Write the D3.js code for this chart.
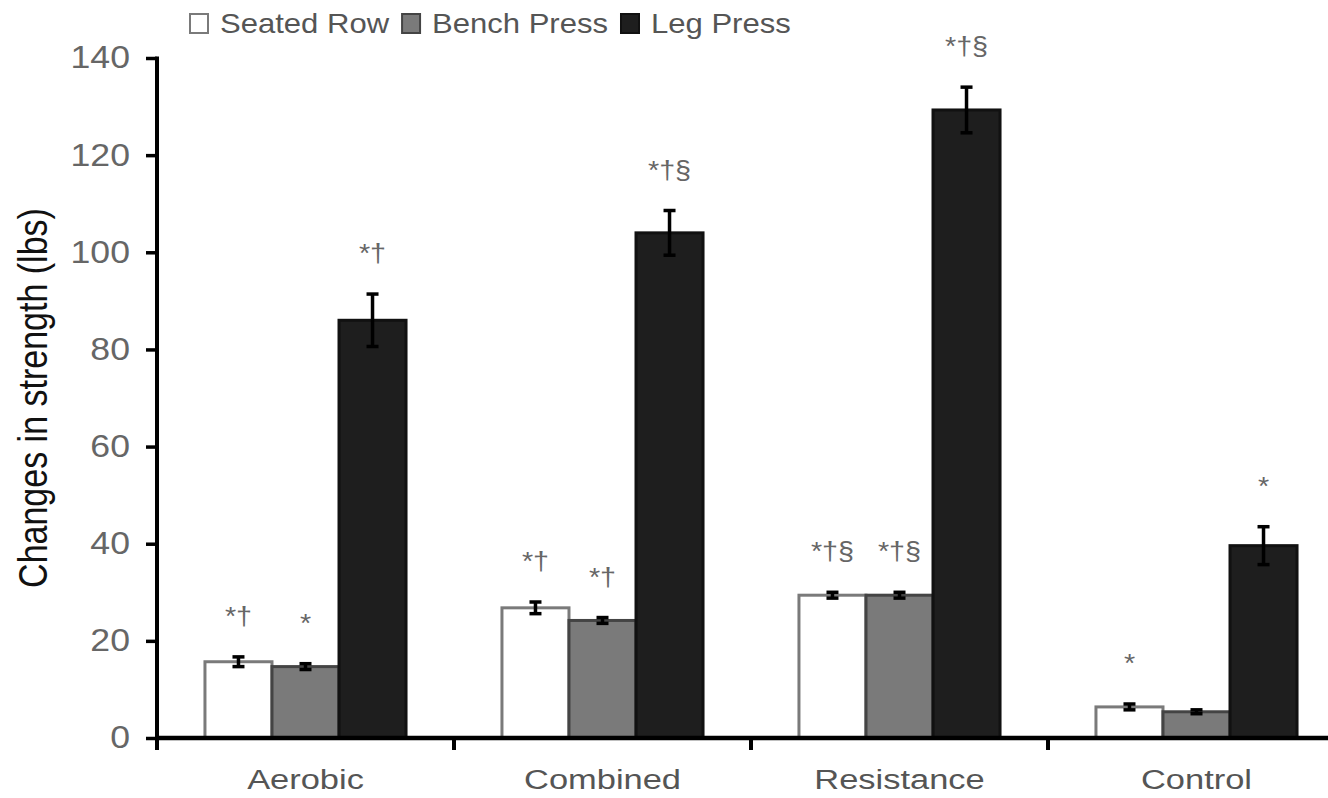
<!DOCTYPE html>
<html>
<head>
<meta charset="utf-8">
<script src="https://cdn.jsdelivr.net/npm/d3@7"></script>
<style>
  body { margin: 0; background: #fff; }
  svg { display: block; font-family: "Liberation Sans", Arial, sans-serif; }
</style>
</head>
<body>
<svg id="chart" width="1328" height="798"></svg>
<script>
// groups and series
var categories = ["Aerobic", "Combined", "Resistance", "Control"];
var seriesNames = ["Seated Row", "Bench Press", "Leg Press"];

// mean change in strength (lbs)
var seatedRow = [15.7, 26.8, 29.4, 6.4];
var benchPress = [14.7, 24.2, 29.4, 5.4];
var legPress = [86, 104, 129.3, 39.6];

// error bar half-lengths
var seatedRowErr = [1.0, 1.2, 0.6, 0.6];
var benchPressErr = [0.6, 0.6, 0.6, 0.4];
var legPressErr = [5.4, 4.6, 4.7, 3.9];

// significance marks above each bar
var seatedRowSig = ["*\u2020", "*\u2020", "*\u2020\u00a7", "*"];
var benchPressSig = ["*", "*\u2020", "*\u2020\u00a7", ""];
var legPressSig = ["*\u2020", "*\u2020\u00a7", "*\u2020\u00a7", "*"];

var yTicks = [0, 20, 40, 60, 80, 100, 120, 140];

var fills = ["#ffffff", "#7a7a7a", "#1e1e1e"];
var strokes = ["#7a7a7a", "#444444", "#111111"];
var sx = 1.15; // the picture is a bit wider than tall

var svg = d3.select("#chart");

var values = [seatedRow, benchPress, legPress];
var errs = [seatedRowErr, benchPressErr, legPressErr];
var sigs = [seatedRowSig, benchPressSig, legPressSig];

var rows = [];
categories.forEach(function(c, i) {
    seriesNames.forEach(function(s, j) {
        rows.push({cat: c, series: s, k: j, value: values[j][i], err: errs[j][i], sig: sigs[j][i]});
    });
});

var y = d3.scaleLinear().domain([0, 140]).range([738, 58]);

var x0 = d3.scaleBand()
    .domain(categories)
    .range([157, 1345])
    .paddingInner(0.323)
    .paddingOuter(0.1615);

var x1 = d3.scaleBand()
    .domain(seriesNames)
    .range([0, x0.bandwidth()]);

// bars
svg.append("g")
  .selectAll("rect")
  .data(rows)
  .enter()
  .append("rect")
    .attr("x", function(d) { return x0(d.cat) + x1(d.series); })
    .attr("y", function(d) { return y(d.value); })
    .attr("width", x1.bandwidth())
    .attr("height", function(d) { return y(0) - y(d.value); })
    .attr("fill", function(d) { return fills[d.k]; })
    .attr("stroke", function(d) { return strokes[d.k]; })
    .attr("stroke-width", 3);

// error bars
var eb = svg.append("g")
  .selectAll("g")
  .data(rows)
  .enter()
  .append("g")
    .attr("transform", function(d) { return "translate(" + (x0(d.cat) + x1(d.series) + x1.bandwidth() / 2) + ",0)"; })
    .attr("stroke", "#000")
    .attr("stroke-width", 3.5);

eb.append("line")
    .attr("y1", function(d) { return y(d.value + d.err); })
    .attr("y2", function(d) { return y(d.value - d.err); });
eb.append("line")
    .attr("x1", -6).attr("x2", 6)
    .attr("y1", function(d) { return y(d.value + d.err); })
    .attr("y2", function(d) { return y(d.value + d.err); });
eb.append("line")
    .attr("x1", -6).attr("x2", 6)
    .attr("y1", function(d) { return y(d.value - d.err); })
    .attr("y2", function(d) { return y(d.value - d.err); });

// significance marks
svg.append("g")
  .selectAll("text")
  .data(rows.filter(function(d) { return d.sig !== ""; }))
  .enter()
  .append("text")
    .attr("transform", function(d) {
        return "translate(" + (x0(d.cat) + x1(d.series) + x1.bandwidth() / 2) + "," + (y(d.value + d.err) - 32) + ") scale(" + sx + ",1)";
    })
    .attr("text-anchor", "middle")
    .style("font-size", "25px")
    .attr("fill", "#666")
    .text(function(d) { return d.sig; });

// y axis
var yAxis = svg.append("g")
    .attr("transform", "translate(157,0)")
    .call(d3.axisLeft(y).tickValues(yTicks).tickSize(11).tickSizeOuter(0).tickPadding(12.5));
yAxis.select(".domain").remove();
yAxis.selectAll(".tick line").attr("stroke", "#000").attr("stroke-width", 3.5);
yAxis.selectAll(".tick text")
    .attr("transform", "scale(" + sx + ",1)")
    .style("font-size", "31px")
    .attr("fill", "#666");
yAxis.append("line")
    .attr("y1", y(140) - 1.5).attr("y2", y(0) + 12)
    .attr("stroke", "#000").attr("stroke-width", 4);

// x axis
var xAxis = svg.append("g")
    .attr("transform", "translate(0," + y(0) + ")")
    .call(d3.axisBottom(x0).tickSize(0).tickPadding(33));
xAxis.select(".domain").remove();
xAxis.selectAll(".tick text")
    .attr("transform", "scale(" + (sx * 1.07) + ",1)")
    .attr("y", 31)
    .style("font-size", "28px")
    .attr("fill", "#555");
xAxis.append("line")
    .attr("x1", 157).attr("x2", 1345)
    .attr("stroke", "#000").attr("stroke-width", 4.5);
xAxis.selectAll(".sep")
    .data(d3.range(1, categories.length))
    .enter()
    .append("line")
    .attr("x1", function(i) { return x0.range()[0] + i * x0.step(); })
    .attr("x2", function(i) { return x0.range()[0] + i * x0.step(); })
    .attr("y1", 0).attr("y2", 12)
    .attr("stroke", "#000").attr("stroke-width", 4);

// y axis title
svg.append("text")
    .attr("transform", "translate(47,398) rotate(-90) scale(1,1.2)")
    .attr("text-anchor", "middle")
    .style("font-size", "34px")
    .attr("fill", "#111")
    .text("Changes in strength (lbs)");

// legend
var legend = svg.append("g").attr("transform", "translate(189,0)");
var lx = 0;
seriesNames.forEach(function(s, j) {
    legend.append("rect")
        .attr("x", lx + 1).attr("y", 14)
        .attr("width", 18).attr("height", 19)
        .attr("fill", fills[j])
        .attr("stroke", strokes[j])
        .attr("stroke-width", 2);
    var t = legend.append("text")
        .attr("transform", "translate(" + (lx + 31) + ",33) scale(" + sx + ",1)")
        .style("font-size", "27px")
        .attr("fill", "#555")
        .text(s);
    lx += 31 + t.node().getComputedTextLength() * sx + 12;
});
</script>
</body>
</html>
